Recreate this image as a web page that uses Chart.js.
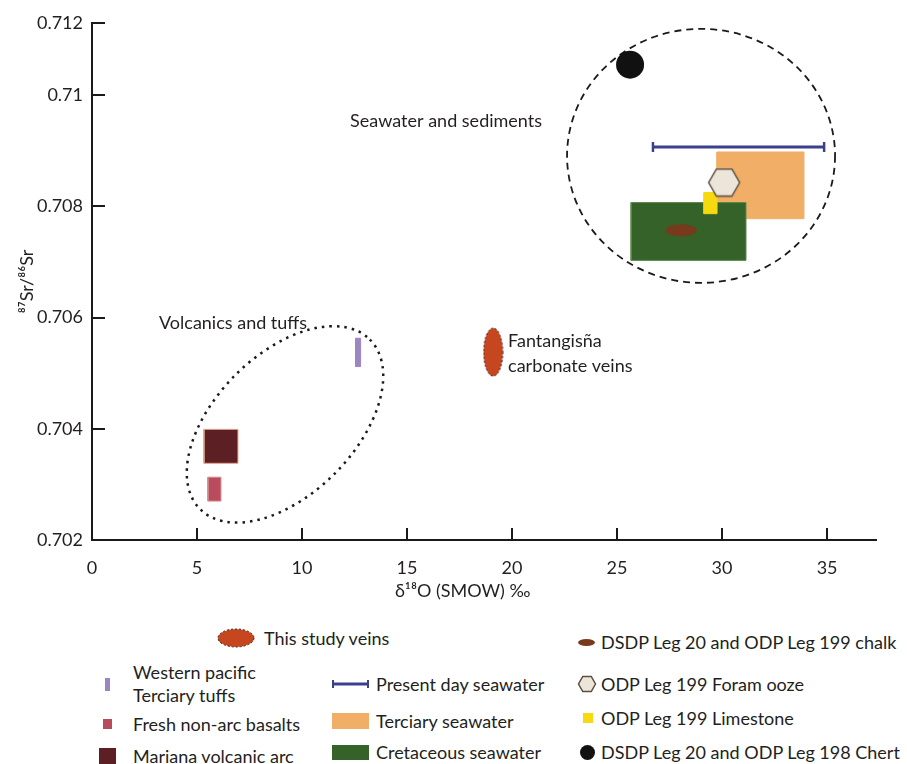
<!DOCTYPE html>
<html lang="en">
<head>
<meta charset="UTF-8">
<title>87Sr/86Sr vs d18O</title>
<script src="https://cdn.jsdelivr.net/npm/chart.js"></script>
<style>
    body {
        margin: 0;
        background: #fff;
        font-family: Lato, "Open Sans", sans-serif;
        color: #231f20;
    }
    .wrap {
        position: relative;
        width: 907px;
        height: 764px;
    }
    #chart {
        position: absolute;
        left: 0;
        top: 0;
    }
    .key-icon {
        position: absolute;
    }
    .key-text {
        position: absolute;
        font-size: 18px;
        line-height: 23px;
        white-space: nowrap;
    }
</style>
</head>
<body>
<div class="wrap" id="wrap">
    <canvas id="chart" width="907" height="605"></canvas>
</div>
<script>
    // ---- values ----
    // boxes: delta18O range (x) and 87Sr/86Sr range (y)
    const rangeKeys   = ['mariana', 'fresh', 'tuffs', 'terciary', 'cretaceous', 'limestone'];
    const rangeLabels = ['Mariana volcanic arc', 'Fresh non-arc basalts', 'Western pacific\nTerciary tuffs',
                         'Terciary seawater', 'Cretaceous seawater', 'ODP Leg 199 Limestone'];
    const rangeO18Min = [5.33, 5.52, 12.56, 29.76, 25.67, 29.14];
    const rangeO18Max = [6.95, 6.14, 12.79, 33.90, 31.14, 29.76];
    const rangeSrMin  = [0.70338, 0.70270, 0.70512, 0.70778, 0.70703, 0.70787];
    const rangeSrMax  = [0.70399, 0.70313, 0.70563, 0.70898, 0.70807, 0.70825];

    // single samples
    const pointKeys   = ['chert', 'foram', 'chalk', 'veins'];
    const pointLabels = ['DSDP Leg 20 and ODP Leg 198 Chert', 'ODP Leg 199 Foram ooze',
                         'DSDP Leg 20 and ODP Leg 199 chalk', 'This study veins'];
    const pointO18    = [25.62, 30.10, 28.05, 19.10];
    const pointSr     = [0.71055, 0.70843, 0.70757, 0.70538];

    // present day seawater span
    const presentO18 = [26.71, 34.86];
    const presentSr  = [0.70907, 0.70907];

    // axes
    const xTickStep   = 5;
    const yTickValues = [0.702, 0.704, 0.706, 0.708, 0.71, 0.7113];
    const yTickLabels = ['0.702', '0.704', '0.706', '0.708', '0.71', '0.712'];

    // ---- styling ----
    const style = {
        mariana:    { fill: '#5b1f24', edge: '#e0a48e', order: 11 },
        fresh:      { fill: '#b84b5c', edge: '#d98a8e', order: 10 },
        tuffs:      { fill: '#9c86c2', edge: '#9c86c2', order: 9 },
        terciary:   { fill: '#f0ae66', edge: '#f0ae66', order: 7 },
        cretaceous: { fill: '#356229', edge: '#5c8a4c', order: 6 },
        limestone:  { fill: '#f6d90f', edge: '#f6d90f', order: 3 },
        chert:      { fill: '#111111', order: 1 },
        foram:      { fill: '#ece6da', edge: '#5e4e42', order: 2 },
        chalk:      { fill: '#78391d', order: 4 },
        veins:      { fill: '#c6471f', edge: '#3b1c0e', order: 8 },
        present:    { edge: '#3c3f8e', order: 5 }
    };
    const FONT = '18px Lato, "Open Sans", sans-serif';

    // enclosing loops: centre in data units, radii in px
    const loops = [
        { cx: 29.0, cy: 0.70891, a: 134, b: 127, rot: 0, dash: [7, 5], width: 1.8 },
        { cx: 9.19, cy: 0.70408, a: 120, b: 70, rot: -Math.PI / 4, dash: [2.5, 5], width: 2.5 }
    ];
    const notes = [
        { text: 'Seawater and sediments', x: 12.29, y: 0.70954 },
        { text: 'Volcanics and tuffs', x: 3.19, y: 0.70590 },
        { text: 'Fantangisña', x: 19.81, y: 0.70557 },
        { text: 'carbonate veins', x: 19.81, y: 0.70512 }
    ];

    // legend: key, icon centre x, centre y, gap to text
    const legendSlots = [
        ['veins', 236, 638, 28],
        ['tuffs', 107, 684, 26],
        ['fresh', 107, 724, 26],
        ['mariana', 107, 756, 26],
        ['present', 350, 684, 26],
        ['terciary', 350, 721, 26],
        ['cretaceous', 350, 752, 26],
        ['chalk', 586, 642, 15],
        ['foram', 587, 684, 14],
        ['limestone', 588, 718, 13],
        ['chert', 587, 752, 14]
    ];
    const iconSize = {
        veins: [38, 20], tuffs: [5, 13], fresh: [9, 10], mariana: [17, 17], present: [37, 10],
        terciary: [37, 16], cretaceous: [37, 15], chalk: [19, 9], foram: [20, 18],
        limestone: [10, 10], chert: [15, 15]
    };

    // ---- marker shapes ----
    function drawShape(key, ctx, w, h) {
        const s = style[key];
        ctx.clearRect(0, 0, w, h);
        if (key === 'veins' || key === 'chalk') {
            ctx.beginPath();
            ctx.ellipse(w / 2, h / 2, w / 2 - 1, h / 2 - 1, 0, 0, Math.PI * 2);
            ctx.fillStyle = s.fill;
            ctx.fill();
            if (s.edge) {
                ctx.setLineDash([2, 2]);
                ctx.lineWidth = 1;
                ctx.strokeStyle = s.edge;
                ctx.stroke();
            }
        } else if (key === 'foram') {
            const r = w / 2 - 1.5;
            const ry = h / 2 - 1.5;
            ctx.beginPath();
            for (let i = 0; i < 6; i++) {
                const a = Math.PI / 3 * i;
                const px = w / 2 + r * Math.cos(a);
                const py = h / 2 + ry * Math.sin(a) / Math.sin(Math.PI / 3);
                if (i === 0) ctx.moveTo(px, py); else ctx.lineTo(px, py);
            }
            ctx.closePath();
            ctx.fillStyle = s.fill;
            ctx.fill();
            ctx.lineWidth = 1.5;
            ctx.strokeStyle = s.edge;
            ctx.stroke();
        } else if (key === 'chert') {
            ctx.beginPath();
            ctx.arc(w / 2, h / 2, w / 2, 0, Math.PI * 2);
            ctx.fillStyle = s.fill;
            ctx.fill();
        } else if (key === 'present') {
            ctx.strokeStyle = s.edge;
            ctx.lineWidth = 3;
            ctx.beginPath();
            ctx.moveTo(1, h / 2);
            ctx.lineTo(w - 1, h / 2);
            ctx.stroke();
            ctx.lineWidth = 2;
            ctx.beginPath();
            ctx.moveTo(1, 1); ctx.lineTo(1, h - 1);
            ctx.moveTo(w - 1, 1); ctx.lineTo(w - 1, h - 1);
            ctx.stroke();
        } else {
            ctx.fillStyle = s.fill;
            ctx.fillRect(0, 0, w, h);
        }
    }

    function makeMarker(key, w, h) {
        const c = document.createElement('canvas');
        c.width = w;
        c.height = h;
        drawShape(key, c.getContext('2d'), w, h);
        return c;
    }

    const markers = {
        chert: 'circle',
        foram: makeMarker('foram', 34, 30),
        chalk: makeMarker('chalk', 33, 14),
        veins: makeMarker('veins', 21, 50)
    };

    // ---- datasets ----
    const datasets = [];
    rangeKeys.forEach((k, i) => {
        const s = style[k];
        datasets.push({
            key: k,
            label: rangeLabels[i],
            data: [
                { x: rangeO18Min[i], y: rangeSrMin[i] },
                { x: rangeO18Max[i], y: rangeSrMin[i] },
                { x: rangeO18Max[i], y: rangeSrMax[i] },
                { x: rangeO18Min[i], y: rangeSrMax[i] },
                { x: rangeO18Min[i], y: rangeSrMin[i] }
            ],
            showLine: true,
            fill: 'shape',
            tension: 0,
            backgroundColor: s.fill,
            borderColor: s.edge,
            borderWidth: 1,
            pointRadius: 0,
            order: s.order
        });
    });
    pointKeys.forEach((k, i) => {
        const s = style[k];
        datasets.push({
            key: k,
            label: pointLabels[i],
            data: [{ x: pointO18[i], y: pointSr[i] }],
            showLine: false,
            pointStyle: markers[k],
            pointRadius: k === 'chert' ? 14 : 10,
            pointBackgroundColor: s.fill,
            pointBorderColor: s.fill,
            pointBorderWidth: 0,
            order: s.order
        });
    });
    datasets.push({
        key: 'present',
        label: 'Present day seawater',
        data: presentO18.map((x, i) => ({ x: x, y: presentSr[i] })),
        showLine: true,
        fill: false,
        borderColor: style.present.edge,
        borderWidth: 3,
        pointStyle: 'line',
        pointRotation: 90,
        pointRadius: 5,
        pointBorderWidth: 2.5,
        pointBorderColor: style.present.edge,
        order: style.present.order
    });

    // loops, notes, inward tick marks and the x title
    const decor = {
        id: 'decor',
        beforeDatasetsDraw(chart) {
            const { ctx, scales: { x, y } } = chart;
            ctx.save();
            ctx.strokeStyle = '#1a1a1a';
            loops.forEach(l => {
                ctx.setLineDash(l.dash);
                ctx.lineWidth = l.width;
                ctx.beginPath();
                ctx.ellipse(x.getPixelForValue(l.cx), y.getPixelForValue(l.cy), l.a, l.b, l.rot, 0, Math.PI * 2);
                ctx.stroke();
            });
            ctx.restore();
        },
        afterDatasetsDraw(chart) {
            const { ctx, scales: { x, y } } = chart;
            ctx.save();
            ctx.fillStyle = '#231f20';
            ctx.font = FONT;
            ctx.textBaseline = 'middle';
            notes.forEach(n => ctx.fillText(n.text, x.getPixelForValue(n.x), y.getPixelForValue(n.y)));
            ctx.restore();
        },
        afterDraw(chart) {
            const { ctx, chartArea: a, scales: { x, y } } = chart;
            ctx.save();
            ctx.strokeStyle = '#1a1a1a';
            ctx.lineWidth = 2;
            ctx.beginPath();
            x.ticks.forEach(t => {
                if (t.value === x.min) return;
                const px = Math.round(x.getPixelForValue(t.value));
                ctx.moveTo(px, a.bottom);
                ctx.lineTo(px, a.bottom - 12);
            });
            y.ticks.forEach(t => {
                if (t.value === y.min) return;
                const py = Math.round(y.getPixelForValue(t.value));
                ctx.moveTo(a.left, py);
                ctx.lineTo(a.left + 13, py);
            });
            ctx.stroke();
            // x title sits a little left of the plot centre in the figure
            ctx.fillStyle = '#231f20';
            ctx.font = FONT;
            ctx.textAlign = 'center';
            ctx.textBaseline = 'middle';
            ctx.fillText('δ¹⁸O (SMOW) ‰', x.getPixelForValue(17.65), 591);
            ctx.restore();
        }
    };

    Chart.defaults.font.family = 'Lato, "Open Sans", sans-serif';
    Chart.defaults.font.size = 18;
    Chart.defaults.color = '#231f20';

    const chart = new Chart(document.getElementById('chart'), {
        type: 'line',
        data: { datasets: datasets },
        options: {
            responsive: false,
            animation: false,
            events: [],
            layout: { padding: { top: 23, right: 31, left: 0, bottom: 0 } },
            plugins: {
                legend: { display: false },
                tooltip: { enabled: false }
            },
            scales: {
                x: {
                    type: 'linear',
                    min: 0,
                    max: 37.33,
                    grid: { drawOnChartArea: false, drawTicks: false },
                    border: { color: '#1a1a1a', width: 2 },
                    ticks: { stepSize: xTickStep, includeBounds: false, padding: 17 },
                    afterFit(scale) { scale.height = 65; }
                },
                y: {
                    type: 'linear',
                    min: yTickValues[0],
                    max: yTickValues[yTickValues.length - 1],
                    grid: { drawOnChartArea: false, drawTicks: false },
                    border: { color: '#1a1a1a', width: 2 },
                    afterBuildTicks(scale) {
                        scale.ticks = yTickValues.map(v => ({ value: v }));
                    },
                    ticks: {
                        padding: 9,
                        callback: (v, i) => yTickLabels[i]
                    },
                    title: { display: true, text: '⁸⁷Sr/⁸⁶Sr', padding: { top: 16, bottom: 0 } },
                    afterFit(scale) { scale.width = 92; }
                }
            }
        },
        plugins: [decor]
    });

    // ---- legend below the plot ----
    const wrap = document.getElementById('wrap');
    legendSlots.forEach(([key, cx, cy, gap]) => {
        const ds = datasets.find(d => d.key === key);
        const [w, h] = iconSize[key];
        const icon = document.createElement('canvas');
        icon.className = 'key-icon';
        icon.width = w;
        icon.height = h;
        icon.style.left = (cx - w / 2) + 'px';
        icon.style.top = (cy - h / 2) + 'px';
        drawShape(key, icon.getContext('2d'), w, h);
        wrap.appendChild(icon);

        const lines = ds.label.split('\n');
        const text = document.createElement('div');
        text.className = 'key-text';
        text.innerHTML = lines.join('<br>');
        text.style.left = (cx + gap) + 'px';
        text.style.top = (cy - lines.length * 23 / 2) + 'px';
        wrap.appendChild(text);
    });
</script>
</body>
</html>
